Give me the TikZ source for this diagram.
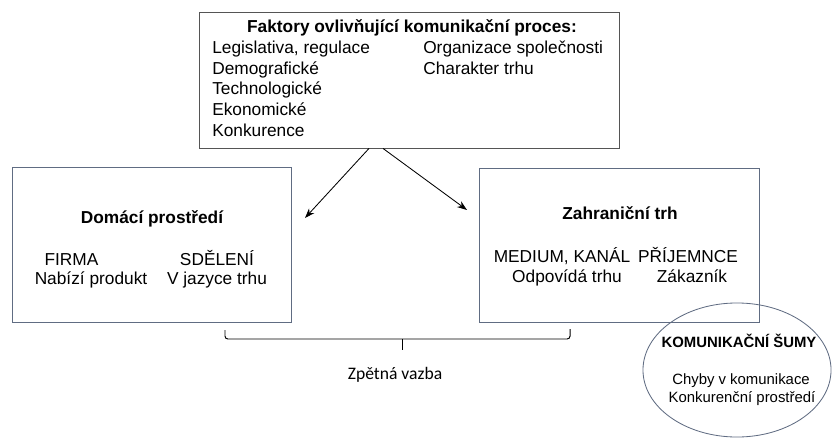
\documentclass[tikz,border=0pt]{standalone}
\usepackage{fontspec}
\setmainfont{Liberation Sans}
\newfontfamily\calibri{Carlito}
\usepackage{tikz}
\usetikzlibrary{arrows.meta,shapes.geometric}
\definecolor{rampa}{RGB}{96,108,130}
\definecolor{ramtop}{RGB}{85,85,85}

\begin{document}
\begin{tikzpicture}[x=0.025cm, y=-0.025cm,
    box/.style={draw=rampa, line width=0.6pt, minimum width=#1, inner sep=0pt},
    txt/.style={inner sep=0pt, anchor=base, font=\fontsize{12.3}{14.6}\selectfont},
    txtl/.style={txt, anchor=base west},
    hlav/.style={txt, font=\fontsize{12.3}{14.6}\selectfont\bfseries},
    sipka/.style={-{Stealth[length=7pt,width=5pt]}, line width=0.6pt}]
        \useasboundingbox (0,0) rectangle (833,438);

        \node[box=10.5cm, draw=ramtop, minimum height=3.4cm] (faktory) at (409,80) {};
        \node[box=6.975cm, minimum height=3.875cm] (domaci) at (151.5,244.5) {};
        \node[box=7cm, minimum height=3.85cm] (zahranicni) at (619,245) {};
        \node[ellipse, draw=rampa, line width=0.6pt, inner sep=0pt, minimum width=4.7cm, minimum height=3.35cm] (sumy) at (737,370) {};

        \node[hlav] (t0) at (412,33) {Faktory ovlivňující komunikační proces:};
        \node[txtl] (t1) at (212,54) {Legislativa, regulace};
        \node[txtl] (t2) at (212,75) {Demografické};
        \node[txtl] (t3) at (212,95) {Technologické};
        \node[txtl] (t4) at (212,116) {Ekonomické};
        \node[txtl] (t5) at (212,137) {Konkurence};
        \node[txtl] (t6) at (423,54) {Organizace společnosti};
        \node[txtl] (t7) at (423,75) {Charakter trhu};

        \node[hlav] (d0) at (152,224) {Domácí prostředí};
        \node[txt] (d1) at (71.5,266) {FIRMA};
        \node[txt] (d2) at (91,285) {Nabízí produkt};
        \node[txt] (d3) at (217,266) {SDĚLENÍ};
        \node[txt] (d4) at (217,285) {V jazyce trhu};

        \node[hlav] (z0) at (620,220) {Zahraniční trh};
        \node[txt] (z1) at (562,263) {MEDIUM, KANÁL};
        \node[txt] (z2) at (688,263) {PŘÍJEMNCE};
        \node[txt] (z3) at (567,283) {Odpovídá trhu};
        \node[txt] (z4) at (692,283) {Zákazník};

        \node[txt, font=\fontsize{10.6}{12.8}\selectfont\bfseries] (s0) at (739,347) {KOMUNIKAČNÍ ŠUMY};
        \node[txt, font=\fontsize{10.6}{12.8}\selectfont] (s1) at (741,384) {Chyby v komunikace};
        \node[txt, font=\fontsize{10.6}{12.8}\selectfont] (s2) at (742,402) {Konkurenční prostředí};

        \node[txt, font=\calibri\fontsize{12.5}{15}\selectfont] (vazba) at (395,379) {Zpětná vazba};

        \coordinate (cilL) at (305,218);
        \coordinate (cilP) at (467,210);
        \coordinate (zavL) at (225,330);
        \coordinate (zavS) at (402,339);
        \coordinate (zavP) at (570,329);
        \coordinate (zavD) at (402,350);

        \draw[sipka] ([xshift=-1cm]faktory.south) -- (cilL);
        \draw[sipka] ([xshift=-0.65cm]faktory.south) -- (cilP);
        \draw[line width=0.7pt, rounded corners=2pt] (zavL) |- (zavS) -| (zavP);
        \draw[line width=0.7pt] (zavS) -- (zavD);
    \end{tikzpicture}
\end{document}
